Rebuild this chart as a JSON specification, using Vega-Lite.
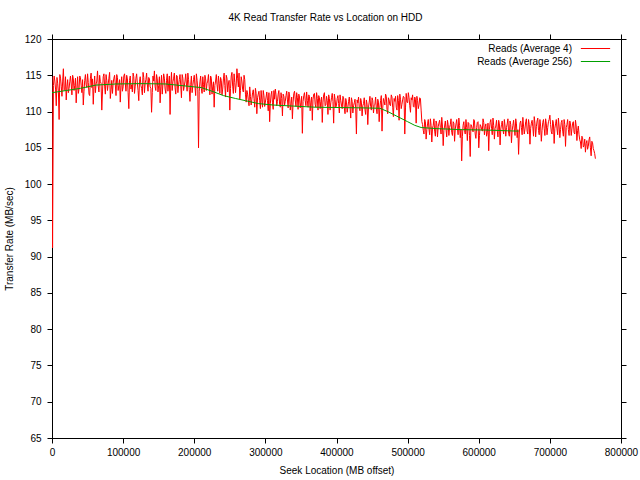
{
"$schema":"https://vega.github.io/schema/vega-lite/v6.json",
"width":569,"height":399,
"autosize":{"type":"none"},
"padding":{"left":52,"top":39,"right":19,"bottom":42},
"background":"white",
"title":{"text":"4K Read Transfer Rate vs Location on HDD","fontSize":10,"font":"Liberation Sans","fontWeight":"normal","color":"black","offset":11,"dx":-11},
"config":{"view":{"stroke":"black","strokeWidth":1},"axis":{"labelFont":"Liberation Sans","titleFont":"Liberation Sans","labelFontSize":10,"titleFontSize":10,"titleFontWeight":"normal","labelColor":"black","titleColor":"black","domainColor":"black","tickColor":"black","grid":false,"tickSize":5,"labelFlush":false}},
"datasets":{
"a4":[
{"mb":0,"rate":114.8},{"mb":800,"rate":91.2},{"mb":2000,"rate":113.6},{"mb":4000,"rate":114.2},{"mb":6000,"rate":110.8},{"mb":8000,"rate":113.9},{"mb":10000,"rate":108.9},{"mb":12000,"rate":114.6},{"mb":14000,"rate":112.1},{"mb":16000,"rate":115.9},{"mb":18000,"rate":113.0},{"mb":20000,"rate":111.6},{"mb":22000,"rate":114.4},{"mb":24000,"rate":113.2},{"mb":26000,"rate":114.9},{"mb":28000,"rate":112.3},{"mb":30000,"rate":114.5},{"mb":32000,"rate":113.6},{"mb":34000,"rate":111.2},{"mb":36000,"rate":114.8},{"mb":38000,"rate":113.1},{"mb":40000,"rate":114.7},{"mb":42000,"rate":112.6},{"mb":44000,"rate":110.9},{"mb":46000,"rate":114.3},{"mb":48000,"rate":113.7},{"mb":50000,"rate":115.2},{"mb":52000,"rate":112.4},{"mb":54000,"rate":114.6},{"mb":56000,"rate":113.3},{"mb":58000,"rate":111.0},{"mb":60000,"rate":114.9},{"mb":62000,"rate":113.8},{"mb":64000,"rate":115.6},{"mb":66000,"rate":112.7},{"mb":68000,"rate":114.1},{"mb":70000,"rate":110.2},{"mb":72000,"rate":114.8},{"mb":74000,"rate":113.5},{"mb":76000,"rate":115.1},{"mb":78000,"rate":112.9},{"mb":80000,"rate":114.6},{"mb":82000,"rate":111.8},{"mb":84000,"rate":114.3},{"mb":86000,"rate":113.9},{"mb":88000,"rate":115.0},{"mb":90000,"rate":112.2},{"mb":92000,"rate":114.7},{"mb":94000,"rate":113.6},{"mb":96000,"rate":111.3},{"mb":98000,"rate":114.8},{"mb":100000,"rate":113.4},{"mb":102000,"rate":115.2},{"mb":104000,"rate":112.8},{"mb":106000,"rate":114.5},{"mb":108000,"rate":110.4},{"mb":110000,"rate":114.9},{"mb":112000,"rate":113.7},{"mb":114000,"rate":115.3},{"mb":116000,"rate":112.5},{"mb":118000,"rate":114.6},{"mb":120000,"rate":113.9},{"mb":122000,"rate":111.5},{"mb":124000,"rate":114.8},{"mb":126000,"rate":113.2},{"mb":128000,"rate":115.4},{"mb":130000,"rate":112.6},{"mb":132000,"rate":114.4},{"mb":134000,"rate":113.8},{"mb":136000,"rate":114.7},{"mb":138000,"rate":113.4},{"mb":140000,"rate":109.9},{"mb":142000,"rate":114.9},{"mb":144000,"rate":115.6},{"mb":146000,"rate":112.9},{"mb":148000,"rate":114.5},{"mb":150000,"rate":113.6},{"mb":152000,"rate":111.2},{"mb":154000,"rate":115.0},{"mb":156000,"rate":113.8},{"mb":158000,"rate":114.6},{"mb":160000,"rate":112.5},{"mb":162000,"rate":115.2},{"mb":164000,"rate":113.9},{"mb":166000,"rate":109.6},{"mb":168000,"rate":115.4},{"mb":170000,"rate":114.1},{"mb":172000,"rate":115.3},{"mb":174000,"rate":112.4},{"mb":176000,"rate":114.9},{"mb":178000,"rate":113.7},{"mb":180000,"rate":115.1},{"mb":182000,"rate":111.9},{"mb":184000,"rate":114.6},{"mb":186000,"rate":113.5},{"mb":188000,"rate":115.2},{"mb":190000,"rate":112.8},{"mb":192000,"rate":114.4},{"mb":194000,"rate":111.4},
{"mb":196000,"rate":114.9},{"mb":198000,"rate":113.6},{"mb":200000,"rate":115.0},{"mb":202000,"rate":112.2},{"mb":204000,"rate":114.3},{"mb":206000,"rate":105.0},{"mb":208000,"rate":114.1},{"mb":210000,"rate":113.2},{"mb":212000,"rate":114.8},{"mb":214000,"rate":112.7},{"mb":216000,"rate":114.5},{"mb":218000,"rate":113.9},{"mb":220000,"rate":115.1},{"mb":222000,"rate":112.3},{"mb":224000,"rate":114.6},{"mb":226000,"rate":113.4},{"mb":228000,"rate":110.6},{"mb":230000,"rate":114.2},{"mb":232000,"rate":113.7},{"mb":234000,"rate":114.9},{"mb":236000,"rate":112.5},{"mb":238000,"rate":114.3},{"mb":240000,"rate":113.1},{"mb":242000,"rate":115.3},{"mb":244000,"rate":112.0},{"mb":246000,"rate":114.6},{"mb":248000,"rate":113.8},{"mb":250000,"rate":110.2},{"mb":252000,"rate":114.9},{"mb":254000,"rate":113.5},{"mb":256000,"rate":115.2},{"mb":258000,"rate":112.6},{"mb":260000,"rate":115.9},{"mb":262000,"rate":113.4},{"mb":264000,"rate":111.7},{"mb":266000,"rate":114.8},{"mb":268000,"rate":113.1},{"mb":270000,"rate":115.0},{"mb":272000,"rate":112.4},
{"mb":274000,"rate":112.9},{"mb":276000,"rate":111.6},{"mb":278000,"rate":113.4},{"mb":280000,"rate":110.9},{"mb":282000,"rate":112.6},{"mb":284000,"rate":111.8},{"mb":286000,"rate":113.2},{"mb":288000,"rate":109.7},{"mb":290000,"rate":112.4},{"mb":292000,"rate":111.5},{"mb":294000,"rate":112.9},{"mb":296000,"rate":110.6},{"mb":298000,"rate":112.2},{"mb":300000,"rate":111.3},{"mb":302000,"rate":112.7},{"mb":304000,"rate":110.1},{"mb":306000,"rate":108.6},{"mb":308000,"rate":112.3},{"mb":310000,"rate":111.2},{"mb":312000,"rate":112.9},{"mb":314000,"rate":113.1},{"mb":316000,"rate":110.8},{"mb":318000,"rate":112.4},{"mb":320000,"rate":111.0},{"mb":322000,"rate":112.6},{"mb":324000,"rate":109.4},{"mb":326000,"rate":112.1},{"mb":328000,"rate":111.4},{"mb":330000,"rate":112.8},{"mb":332000,"rate":110.5},{"mb":334000,"rate":112.3},{"mb":336000,"rate":111.1},{"mb":338000,"rate":109.0},{"mb":340000,"rate":112.5},{"mb":342000,"rate":111.6},{"mb":344000,"rate":112.6},{"mb":346000,"rate":110.3},{"mb":348000,"rate":112.0},{"mb":350000,"rate":111.2},{"mb":352000,"rate":107.0},{"mb":354000,"rate":112.2},{"mb":356000,"rate":111.5},{"mb":358000,"rate":112.7},{"mb":360000,"rate":110.6},{"mb":362000,"rate":112.1},{"mb":364000,"rate":111.3},{"mb":366000,"rate":108.8},{"mb":368000,"rate":112.4},{"mb":370000,"rate":111.0},{"mb":372000,"rate":112.6},{"mb":374000,"rate":110.2},{"mb":376000,"rate":111.9},{"mb":378000,"rate":111.4},{"mb":380000,"rate":108.5},{"mb":382000,"rate":112.3},{"mb":384000,"rate":110.8},{"mb":386000,"rate":112.1},{"mb":388000,"rate":109.6},{"mb":390000,"rate":111.8},{"mb":392000,"rate":111.2},{"mb":394000,"rate":112.5},{"mb":396000,"rate":108.4},{"mb":398000,"rate":111.7},{"mb":400000,"rate":110.9},{"mb":402000,"rate":112.2},{"mb":404000,"rate":109.8},
{"mb":406000,"rate":111.5},{"mb":408000,"rate":110.4},{"mb":410000,"rate":111.9},{"mb":412000,"rate":109.7},{"mb":414000,"rate":111.3},{"mb":416000,"rate":110.6},{"mb":418000,"rate":112.0},{"mb":420000,"rate":109.1},{"mb":422000,"rate":111.4},{"mb":424000,"rate":110.8},{"mb":426000,"rate":111.7},{"mb":428000,"rate":106.9},{"mb":430000,"rate":111.2},{"mb":432000,"rate":110.5},{"mb":434000,"rate":111.8},{"mb":436000,"rate":109.4},{"mb":438000,"rate":111.1},{"mb":440000,"rate":110.3},{"mb":442000,"rate":111.6},{"mb":444000,"rate":108.2},{"mb":446000,"rate":111.3},{"mb":448000,"rate":110.7},{"mb":450000,"rate":111.9},{"mb":452000,"rate":109.8},{"mb":454000,"rate":111.0},{"mb":456000,"rate":110.4},{"mb":458000,"rate":111.7},{"mb":460000,"rate":108.6},{"mb":462000,"rate":111.5},{"mb":464000,"rate":107.3},{"mb":466000,"rate":111.8},{"mb":468000,"rate":110.9},{"mb":470000,"rate":112.1},{"mb":472000,"rate":109.7},{"mb":474000,"rate":111.6},{"mb":476000,"rate":110.8},{"mb":478000,"rate":112.0},{"mb":480000,"rate":109.3},{"mb":482000,"rate":111.4},{"mb":484000,"rate":110.6},{"mb":486000,"rate":112.2},{"mb":488000,"rate":108.8},{"mb":490000,"rate":111.7},{"mb":492000,"rate":111.0},{"mb":494000,"rate":112.1},{"mb":496000,"rate":106.9},{"mb":498000,"rate":112.5},{"mb":500000,"rate":111.2},{"mb":502000,"rate":111.9},{"mb":504000,"rate":109.9},{"mb":506000,"rate":111.6},{"mb":508000,"rate":110.7},{"mb":510000,"rate":112.0},{"mb":512000,"rate":108.4},{"mb":514000,"rate":111.5},{"mb":516000,"rate":110.9},{"mb":518000,"rate":111.8},
{"mb":520000,"rate":108.6},{"mb":522000,"rate":107.4},{"mb":524000,"rate":108.9},{"mb":526000,"rate":106.2},{"mb":528000,"rate":108.3},{"mb":530000,"rate":107.6},{"mb":532000,"rate":109.0},{"mb":534000,"rate":105.8},{"mb":536000,"rate":108.1},{"mb":538000,"rate":107.3},{"mb":540000,"rate":108.7},{"mb":542000,"rate":106.5},{"mb":544000,"rate":108.4},{"mb":546000,"rate":107.8},{"mb":548000,"rate":109.2},{"mb":550000,"rate":105.3},{"mb":552000,"rate":108.0},{"mb":554000,"rate":107.5},{"mb":556000,"rate":108.8},{"mb":558000,"rate":106.7},{"mb":560000,"rate":108.2},{"mb":562000,"rate":107.1},{"mb":564000,"rate":108.6},{"mb":566000,"rate":105.9},{"mb":568000,"rate":108.3},{"mb":570000,"rate":107.7},{"mb":572000,"rate":109.1},{"mb":574000,"rate":106.4},{"mb":576000,"rate":103.2},{"mb":578000,"rate":108.1},{"mb":580000,"rate":107.4},{"mb":582000,"rate":108.9},{"mb":584000,"rate":106.0},{"mb":586000,"rate":108.4},{"mb":588000,"rate":103.8},{"mb":590000,"rate":108.0},{"mb":592000,"rate":107.2},{"mb":594000,"rate":108.7},{"mb":596000,"rate":106.3},{"mb":598000,"rate":108.5},{"mb":600000,"rate":105.0},{"mb":602000,"rate":108.2},{"mb":604000,"rate":107.6},{"mb":606000,"rate":109.0},{"mb":608000,"rate":106.8},{"mb":610000,"rate":108.3},{"mb":612000,"rate":107.1},{"mb":614000,"rate":104.6},{"mb":616000,"rate":108.5},{"mb":618000,"rate":107.7},{"mb":620000,"rate":109.1},{"mb":622000,"rate":106.2},{"mb":624000,"rate":108.0},{"mb":626000,"rate":107.4},{"mb":628000,"rate":108.8},{"mb":630000,"rate":105.4},{"mb":632000,"rate":108.2},{"mb":634000,"rate":107.5},{"mb":636000,"rate":108.9},{"mb":638000,"rate":106.6},{"mb":640000,"rate":108.3},{"mb":642000,"rate":107.0},{"mb":644000,"rate":108.7},{"mb":646000,"rate":105.7},{"mb":648000,"rate":108.1},{"mb":650000,"rate":107.6},{"mb":652000,"rate":109.0},{"mb":654000,"rate":106.4},{"mb":656000,"rate":104.1},{"mb":658000,"rate":108.4},{"mb":660000,"rate":107.8},{"mb":662000,"rate":109.2},{"mb":664000,"rate":106.9},{"mb":666000,"rate":108.6},{"mb":668000,"rate":107.3},{"mb":670000,"rate":108.9},{"mb":672000,"rate":105.5},{"mb":674000,"rate":108.4},{"mb":676000,"rate":107.9},{"mb":678000,"rate":109.3},{"mb":680000,"rate":106.5},{"mb":682000,"rate":108.7},{"mb":684000,"rate":107.4},{"mb":686000,"rate":108.9},{"mb":688000,"rate":105.9},{"mb":690000,"rate":108.5},{"mb":692000,"rate":107.7},{"mb":694000,"rate":109.0},{"mb":696000,"rate":106.8},{"mb":698000,"rate":108.6},{"mb":700000,"rate":109.5},{"mb":702000,"rate":107.2},{"mb":704000,"rate":108.8},{"mb":706000,"rate":105.6},{"mb":708000,"rate":108.3},{"mb":710000,"rate":107.6},{"mb":712000,"rate":109.1},{"mb":714000,"rate":106.4},{"mb":716000,"rate":108.5},{"mb":718000,"rate":107.3},{"mb":720000,"rate":108.9},{"mb":722000,"rate":105.2},{"mb":724000,"rate":108.2},{"mb":726000,"rate":107.5},{"mb":728000,"rate":108.7},{"mb":730000,"rate":106.7},{"mb":732000,"rate":108.4},{"mb":734000,"rate":107.1},{"mb":736000,"rate":108.8},{"mb":738000,"rate":106.0},
{"mb":740000,"rate":108.0},{"mb":742000,"rate":106.1},{"mb":744000,"rate":104.9},{"mb":746000,"rate":106.4},{"mb":748000,"rate":105.3},{"mb":750000,"rate":104.4},{"mb":752000,"rate":106.0},{"mb":754000,"rate":105.2},{"mb":756000,"rate":106.5},{"mb":758000,"rate":103.9},{"mb":760000,"rate":105.7},{"mb":762000,"rate":104.6},{"mb":764000,"rate":103.5},
{"mb":3000,"rate":114.9},{"mb":5000,"rate":113.1},{"mb":7000,"rate":114.7},{"mb":9000,"rate":112.8},{"mb":11000,"rate":115.1},{"mb":13000,"rate":113.5},{"mb":15000,"rate":114.2},{"mb":17000,"rate":112.9},{"mb":19000,"rate":114.8},{"mb":21000,"rate":113.4},{"mb":23000,"rate":112.6},{"mb":25000,"rate":114.1},{"mb":27000,"rate":113.8},{"mb":29000,"rate":115.0},{"mb":31000,"rate":112.9},{"mb":33000,"rate":114.6},{"mb":35000,"rate":113.2},{"mb":37000,"rate":112.5},{"mb":39000,"rate":114.9},{"mb":41000,"rate":113.6},{"mb":43000,"rate":114.4},{"mb":45000,"rate":112.8},{"mb":47000,"rate":115.1},{"mb":49000,"rate":113.3},{"mb":51000,"rate":114.0},{"mb":53000,"rate":112.2},{"mb":55000,"rate":115.3},{"mb":57000,"rate":114.5},{"mb":59000,"rate":113.4},{"mb":61000,"rate":112.6},{"mb":63000,"rate":114.2},{"mb":65000,"rate":113.5},{"mb":67000,"rate":115.0},{"mb":69000,"rate":113.9},{"mb":71000,"rate":112.7},{"mb":73000,"rate":115.2},{"mb":75000,"rate":112.4},{"mb":77000,"rate":114.3},{"mb":79000,"rate":113.8},{"mb":81000,"rate":115.4},{"mb":83000,"rate":113.0},{"mb":85000,"rate":112.5},{"mb":87000,"rate":114.6},{"mb":89000,"rate":113.7},{"mb":91000,"rate":115.1},{"mb":93000,"rate":112.9},{"mb":95000,"rate":114.4},{"mb":97000,"rate":113.6},{"mb":99000,"rate":112.8},{"mb":101000,"rate":114.9},{"mb":103000,"rate":113.9},{"mb":105000,"rate":115.0},{"mb":107000,"rate":112.6},{"mb":109000,"rate":114.3},{"mb":111000,"rate":113.1},{"mb":113000,"rate":112.7},{"mb":115000,"rate":114.8},{"mb":117000,"rate":113.5},{"mb":119000,"rate":115.2},{"mb":121000,"rate":112.9},{"mb":123000,"rate":114.1},{"mb":125000,"rate":113.6},{"mb":127000,"rate":112.3},{"mb":129000,"rate":114.7},{"mb":131000,"rate":113.9},{"mb":133000,"rate":115.3},{"mb":135000,"rate":112.8},{"mb":137000,"rate":114.5},{"mb":139000,"rate":113.2},{"mb":141000,"rate":112.6},{"mb":143000,"rate":114.2},{"mb":145000,"rate":113.4},{"mb":147000,"rate":115.1},{"mb":149000,"rate":112.7},{"mb":151000,"rate":114.8},{"mb":153000,"rate":113.5},{"mb":155000,"rate":112.4},{"mb":157000,"rate":115.2},{"mb":159000,"rate":113.1},{"mb":161000,"rate":114.3},{"mb":163000,"rate":112.8},{"mb":165000,"rate":114.9},{"mb":167000,"rate":113.7},{"mb":169000,"rate":112.9},{"mb":171000,"rate":114.6},{"mb":173000,"rate":113.3},{"mb":175000,"rate":115.0},{"mb":177000,"rate":112.6},{"mb":179000,"rate":114.4},{"mb":181000,"rate":113.6},{"mb":183000,"rate":115.1},{"mb":185000,"rate":112.9},{"mb":187000,"rate":114.2},{"mb":189000,"rate":113.8},{"mb":191000,"rate":115.3},{"mb":193000,"rate":113.0},
{"mb":195000,"rate":113.7},{"mb":197000,"rate":112.6},{"mb":199000,"rate":114.4},{"mb":201000,"rate":113.5},{"mb":203000,"rate":115.2},{"mb":205000,"rate":113.0},{"mb":207000,"rate":112.8},{"mb":209000,"rate":114.9},{"mb":211000,"rate":112.5},{"mb":213000,"rate":113.7},{"mb":215000,"rate":115.0},{"mb":217000,"rate":112.9},{"mb":219000,"rate":114.2},{"mb":221000,"rate":113.4},{"mb":223000,"rate":114.9},{"mb":225000,"rate":112.4},{"mb":227000,"rate":114.1},{"mb":229000,"rate":113.6},{"mb":231000,"rate":115.1},{"mb":233000,"rate":112.8},{"mb":235000,"rate":113.9},{"mb":237000,"rate":114.7},{"mb":239000,"rate":112.3},{"mb":241000,"rate":114.5},{"mb":243000,"rate":113.6},{"mb":245000,"rate":115.0},{"mb":247000,"rate":112.7},{"mb":249000,"rate":114.3},{"mb":251000,"rate":113.2},{"mb":253000,"rate":115.4},{"mb":255000,"rate":112.5},{"mb":257000,"rate":114.0},{"mb":259000,"rate":113.8},{"mb":261000,"rate":114.6},{"mb":263000,"rate":115.3},{"mb":265000,"rate":112.9},{"mb":267000,"rate":114.2},{"mb":269000,"rate":112.7},{"mb":271000,"rate":114.4},
{"mb":273000,"rate":111.3},{"mb":275000,"rate":112.4},{"mb":277000,"rate":110.8},{"mb":279000,"rate":112.1},{"mb":281000,"rate":111.7},{"mb":283000,"rate":113.0},{"mb":285000,"rate":110.6},{"mb":287000,"rate":112.5},{"mb":289000,"rate":111.9},{"mb":291000,"rate":112.8},{"mb":293000,"rate":110.4},{"mb":295000,"rate":111.6},{"mb":297000,"rate":112.9},{"mb":299000,"rate":110.7},{"mb":301000,"rate":112.0},{"mb":303000,"rate":111.5},{"mb":305000,"rate":112.6},{"mb":307000,"rate":111.1},{"mb":309000,"rate":112.8},{"mb":311000,"rate":110.3},{"mb":313000,"rate":111.7},{"mb":315000,"rate":112.3},{"mb":317000,"rate":111.4},{"mb":319000,"rate":112.9},{"mb":321000,"rate":110.6},{"mb":323000,"rate":111.8},{"mb":325000,"rate":112.4},{"mb":327000,"rate":110.9},{"mb":329000,"rate":112.2},{"mb":331000,"rate":111.6},{"mb":333000,"rate":112.7},{"mb":335000,"rate":110.2},{"mb":337000,"rate":112.0},{"mb":339000,"rate":111.3},{"mb":341000,"rate":112.8},{"mb":343000,"rate":110.7},{"mb":345000,"rate":111.9},{"mb":347000,"rate":112.4},{"mb":349000,"rate":110.5},{"mb":351000,"rate":112.1},{"mb":353000,"rate":111.4},{"mb":355000,"rate":112.6},{"mb":357000,"rate":110.8},{"mb":359000,"rate":111.5},{"mb":361000,"rate":112.3},{"mb":363000,"rate":110.1},{"mb":365000,"rate":112.0},{"mb":367000,"rate":111.7},{"mb":369000,"rate":112.5},{"mb":371000,"rate":110.6},{"mb":373000,"rate":111.8},{"mb":375000,"rate":112.2},{"mb":377000,"rate":110.4},{"mb":379000,"rate":112.0},{"mb":381000,"rate":111.3},{"mb":383000,"rate":112.6},{"mb":385000,"rate":110.9},{"mb":387000,"rate":111.5},{"mb":389000,"rate":112.3},{"mb":391000,"rate":110.2},{"mb":393000,"rate":111.9},{"mb":395000,"rate":111.4},{"mb":397000,"rate":112.4},{"mb":399000,"rate":110.6},{"mb":401000,"rate":111.8},{"mb":403000,"rate":111.1},{"mb":405000,"rate":112.3},
{"mb":407000,"rate":110.9},{"mb":409000,"rate":112.1},{"mb":411000,"rate":110.5},{"mb":413000,"rate":111.8},{"mb":415000,"rate":109.9},{"mb":417000,"rate":111.4},{"mb":419000,"rate":110.7},{"mb":421000,"rate":111.9},{"mb":423000,"rate":109.8},{"mb":425000,"rate":111.2},{"mb":427000,"rate":110.4},{"mb":429000,"rate":111.6},{"mb":431000,"rate":112.0},{"mb":433000,"rate":110.1},{"mb":435000,"rate":111.3},{"mb":437000,"rate":110.8},{"mb":439000,"rate":111.9},{"mb":441000,"rate":109.6},{"mb":443000,"rate":111.0},{"mb":445000,"rate":110.6},{"mb":447000,"rate":112.1},{"mb":449000,"rate":110.2},{"mb":451000,"rate":111.5},{"mb":453000,"rate":110.9},{"mb":455000,"rate":112.0},{"mb":457000,"rate":109.7},{"mb":459000,"rate":111.3},{"mb":461000,"rate":110.6},{"mb":463000,"rate":112.2},{"mb":465000,"rate":110.5},{"mb":467000,"rate":111.4},{"mb":469000,"rate":112.4},{"mb":471000,"rate":110.3},{"mb":473000,"rate":111.9},{"mb":475000,"rate":110.9},{"mb":477000,"rate":112.3},{"mb":479000,"rate":110.6},{"mb":481000,"rate":111.8},{"mb":483000,"rate":112.1},{"mb":485000,"rate":110.2},{"mb":487000,"rate":111.5},{"mb":489000,"rate":112.4},{"mb":491000,"rate":110.4},{"mb":493000,"rate":111.6},{"mb":495000,"rate":112.0},{"mb":497000,"rate":110.5},{"mb":499000,"rate":111.3},{"mb":501000,"rate":112.6},{"mb":503000,"rate":110.8},{"mb":505000,"rate":111.9},{"mb":507000,"rate":112.3},{"mb":509000,"rate":110.6},{"mb":511000,"rate":111.7},{"mb":513000,"rate":112.1},{"mb":515000,"rate":110.4},{"mb":517000,"rate":111.9},{"mb":519000,"rate":110.2},
{"mb":521000,"rate":108.2},{"mb":523000,"rate":106.9},{"mb":525000,"rate":108.6},{"mb":527000,"rate":107.5},{"mb":529000,"rate":108.9},{"mb":531000,"rate":106.8},{"mb":533000,"rate":108.1},{"mb":535000,"rate":107.7},{"mb":537000,"rate":109.0},{"mb":539000,"rate":106.6},{"mb":541000,"rate":108.3},{"mb":543000,"rate":107.9},{"mb":545000,"rate":108.8},{"mb":547000,"rate":106.9},{"mb":549000,"rate":108.0},{"mb":551000,"rate":107.4},{"mb":553000,"rate":108.7},{"mb":555000,"rate":106.5},{"mb":557000,"rate":108.2},{"mb":559000,"rate":107.8},{"mb":561000,"rate":109.0},{"mb":563000,"rate":106.7},{"mb":565000,"rate":108.4},{"mb":567000,"rate":107.6},{"mb":569000,"rate":108.9},{"mb":571000,"rate":106.8},{"mb":573000,"rate":108.1},{"mb":575000,"rate":107.5},{"mb":577000,"rate":106.6},{"mb":579000,"rate":108.6},{"mb":581000,"rate":106.9},{"mb":583000,"rate":107.8},{"mb":585000,"rate":108.5},{"mb":587000,"rate":106.7},{"mb":589000,"rate":108.2},{"mb":591000,"rate":107.6},{"mb":593000,"rate":108.9},{"mb":595000,"rate":106.9},{"mb":597000,"rate":107.8},{"mb":599000,"rate":108.6},{"mb":601000,"rate":106.7},{"mb":603000,"rate":108.0},{"mb":605000,"rate":107.3},{"mb":607000,"rate":108.5},{"mb":609000,"rate":107.9},{"mb":611000,"rate":106.6},{"mb":613000,"rate":108.4},{"mb":615000,"rate":107.5},{"mb":617000,"rate":108.9},{"mb":619000,"rate":106.8},{"mb":621000,"rate":108.1},{"mb":623000,"rate":107.7},{"mb":625000,"rate":108.8},{"mb":627000,"rate":106.5},{"mb":629000,"rate":108.3},{"mb":631000,"rate":107.6},{"mb":633000,"rate":108.7},{"mb":635000,"rate":106.9},{"mb":637000,"rate":108.0},{"mb":639000,"rate":107.8},{"mb":641000,"rate":109.0},{"mb":643000,"rate":106.6},{"mb":645000,"rate":108.2},{"mb":647000,"rate":107.4},{"mb":649000,"rate":108.8},{"mb":651000,"rate":106.7},{"mb":653000,"rate":108.3},{"mb":655000,"rate":107.5},{"mb":657000,"rate":106.9},{"mb":659000,"rate":108.7},{"mb":661000,"rate":106.8},{"mb":663000,"rate":108.0},{"mb":665000,"rate":107.6},{"mb":667000,"rate":109.0},{"mb":669000,"rate":106.9},{"mb":671000,"rate":108.2},{"mb":673000,"rate":107.7},{"mb":675000,"rate":108.8},{"mb":677000,"rate":106.6},{"mb":679000,"rate":108.4},{"mb":681000,"rate":107.9},{"mb":683000,"rate":109.1},{"mb":685000,"rate":106.8},{"mb":687000,"rate":108.0},{"mb":689000,"rate":107.4},{"mb":691000,"rate":108.9},{"mb":693000,"rate":106.7},{"mb":695000,"rate":108.3},{"mb":697000,"rate":107.8},{"mb":699000,"rate":108.9},{"mb":701000,"rate":108.2},{"mb":703000,"rate":106.9},{"mb":705000,"rate":108.4},{"mb":707000,"rate":107.7},{"mb":709000,"rate":108.9},{"mb":711000,"rate":106.8},{"mb":713000,"rate":108.0},{"mb":715000,"rate":107.5},{"mb":717000,"rate":108.8},{"mb":719000,"rate":106.6},{"mb":721000,"rate":108.2},{"mb":723000,"rate":107.8},{"mb":725000,"rate":108.9},{"mb":727000,"rate":106.7},{"mb":729000,"rate":108.3},{"mb":731000,"rate":107.6},{"mb":733000,"rate":108.6},{"mb":735000,"rate":106.9},{"mb":737000,"rate":108.0},{"mb":739000,"rate":107.4},
{"mb":741000,"rate":106.8},{"mb":743000,"rate":105.8},{"mb":745000,"rate":106.6},{"mb":747000,"rate":105.1},{"mb":749000,"rate":106.2},{"mb":751000,"rate":105.6},{"mb":753000,"rate":104.8},{"mb":755000,"rate":106.1},{"mb":757000,"rate":105.0},{"mb":759000,"rate":105.9},{"mb":761000,"rate":104.9},{"mb":763000,"rate":104.2}
],
"a256":[
{"mb":0,"rate":112.6},{"mb":20000,"rate":112.9},{"mb":40000,"rate":113.2},{"mb":62000,"rate":113.65},{"mb":90000,"rate":113.8},{"mb":125000,"rate":113.85},{"mb":160000,"rate":113.8},{"mb":190000,"rate":113.5},{"mb":210000,"rate":113.3},{"mb":225000,"rate":112.8},{"mb":241000,"rate":112.2},{"mb":258000,"rate":111.8},{"mb":272000,"rate":111.5},{"mb":290000,"rate":111.1},{"mb":311000,"rate":110.9},{"mb":340000,"rate":110.75},{"mb":370000,"rate":110.6},{"mb":405000,"rate":110.55},{"mb":440000,"rate":110.5},{"mb":461000,"rate":110.45},{"mb":472000,"rate":110.0},{"mb":484000,"rate":109.4},{"mb":500000,"rate":108.6},{"mb":510000,"rate":108.1},{"mb":519000,"rate":107.8},{"mb":540000,"rate":107.65},{"mb":577000,"rate":107.5},{"mb":610000,"rate":107.45},{"mb":640000,"rate":107.35},{"mb":656000,"rate":107.3}
]
},
"layer":[
{"data":{"name":"a4"},"mark":{"type":"line","strokeWidth":1,"clip":true},
"encoding":{
"x":{"field":"mb","type":"quantitative","scale":{"domain":[0,800000],"nice":false,"zero":false},"axis":{"title":"Seek Location (MB offset)","values":[0,100000,200000,300000,400000,500000,600000,700000,800000],"format":"d","titlePadding":8,"labelPadding":4,"encode":{"ticks":{"update":{"y2":{"value":-5}}}}}},
"y":{"field":"rate","type":"quantitative","scale":{"domain":[65,120],"nice":false,"zero":false},"axis":{"title":"Transfer Rate (MB/sec)","values":[65,70,75,80,85,90,95,100,105,110,115,120],"titlePadding":10,"labelPadding":6,"encode":{"ticks":{"update":{"x2":{"value":5}}}}}},
"color":{"datum":"Reads (Average 4)","type":"nominal","scale":{"domain":["Reads (Average 4)","Reads (Average 256)"],"range":["#ff0000","#00a000"]},
"legend":{"title":null,"orient":"none","legendX":538,"legendY":4,"symbolType":"M-2.93,0H2.93","symbolSize":100,"symbolStrokeWidth":1,"labelAlign":"right","labelOffset":-29,"labelFont":"Liberation Sans","labelFontSize":10,"labelColor":"black","rowPadding":2}}}},
{"data":{"name":"a256"},"mark":{"type":"line","strokeWidth":1,"clip":true},
"encoding":{
"x":{"field":"mb","type":"quantitative","axis":{"title":null,"labels":false,"values":[0,100000,200000,300000,400000,500000,600000,700000,800000],"encode":{"ticks":{"update":{"y2":{"value":5}}}}}},
"y":{"field":"rate","type":"quantitative","axis":{"title":null,"labels":false,"values":[65,70,75,80,85,90,95,100,105,110,115,120],"encode":{"ticks":{"update":{"x2":{"value":-5}}}}}},
"color":{"datum":"Reads (Average 256)","type":"nominal"}}}
],
"resolve":{"axis":{"x":"independent","y":"independent"}}
}
